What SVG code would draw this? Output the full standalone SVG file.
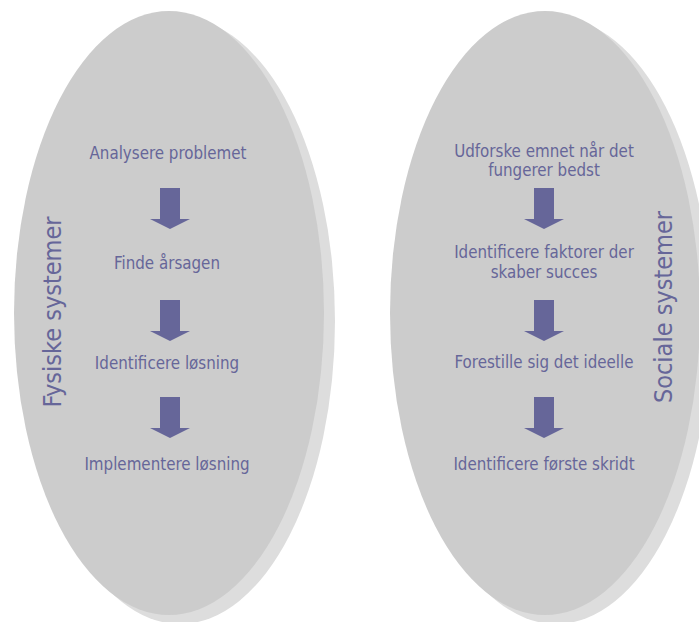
<svg xmlns="http://www.w3.org/2000/svg" width="699" height="622" viewBox="0 0 699 622">
<style>
.sh{fill:#dddddd}
.el{fill:#cccccc}
.t{font-family:"DejaVu Sans Condensed","DejaVu Sans",sans-serif;font-size:16.8px;fill:#666699;text-anchor:middle}
.v{font-family:"DejaVu Sans Condensed","DejaVu Sans",sans-serif;font-size:25px;fill:#666699;text-anchor:middle}
.ar{fill:#666699}
</style>
<defs>
<path id="arrow" d="M-10,0 H10 V31 H20 L0,41 L-20,31 H-10 Z"/>
</defs>
<g id="left-system">
<ellipse class="sh" cx="180" cy="321" rx="155" ry="303"/>
<ellipse class="el" cx="169" cy="313" rx="155" ry="302"/>
<text class="v" transform="translate(61,312) rotate(-90)">Fysiske systemer</text>
</g>
<g id="right-system">
<ellipse class="sh" cx="556" cy="321" rx="155" ry="303"/>
<ellipse class="el" cx="545" cy="313" rx="155" ry="302"/>
<text class="v" transform="translate(672,307) rotate(-90)">Sociale systemer</text>
</g>
<g id="n1"><text class="t" x="168" y="159">Analysere problemet</text></g>
<g id="n2"><text class="t" x="167" y="269">Finde årsagen</text></g>
<g id="n3"><text class="t" x="167" y="369">Identificere løsning</text></g>
<g id="n4"><text class="t" x="167" y="470">Implementere løsning</text></g>
<g id="n5"><text class="t" x="544" y="157">Udforske emnet når det</text><text class="t" x="544" y="176">fungerer bedst</text></g>
<g id="n6"><text class="t" x="544" y="258">Identificere faktorer der</text><text class="t" x="544" y="278">skaber succes</text></g>
<g id="n7"><text class="t" x="544" y="368">Forestille sig det ideelle</text></g>
<g id="n8"><text class="t" x="544" y="470">Identificere første skridt</text></g>
<g id="connectors">
<use href="#arrow" class="ar" x="170" y="188"/>
<use href="#arrow" class="ar" x="170" y="300"/>
<use href="#arrow" class="ar" x="170" y="397"/>
<use href="#arrow" class="ar" x="544" y="188"/>
<use href="#arrow" class="ar" x="544" y="300"/>
<use href="#arrow" class="ar" x="544" y="397"/>
</g>
</svg>
